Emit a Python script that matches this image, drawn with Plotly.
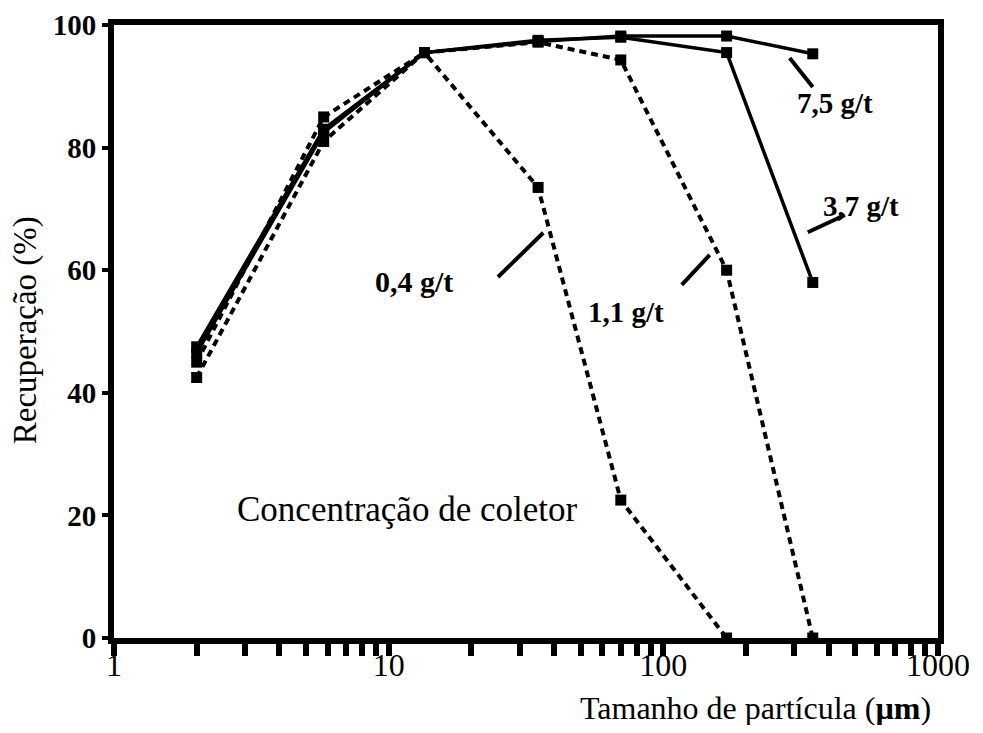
import plotly.graph_objects as go

# ---- data ----
sizes = [2, 5.8, 13.5, 35, 70, 170, 350]
rec_04 = [42.5, 81, 95.5, 73.5, 22.5, 0]
rec_11 = [45, 85, 95.5, 97.2, 94.3, 60, 0]
rec_37 = [46.5, 82.5, 95.5, 97.5, 98, 95.5, 58]
rec_75 = [47.5, 83, 95.5, 97.3, 98.2, 98.2, 95.3]

x_tickvals = [1, 2, 3, 4, 5, 6, 7, 8, 9, 10, 20, 30, 40, 50, 60, 70, 80, 90,
              100, 200, 300, 400, 500, 600, 700, 800, 900, 1000]
x_ticktext = ["1"] + [""] * 8 + ["10"] + [""] * 8 + ["100"] + [""] * 8 + ["1000"]
y_tickvals = [0, 20, 40, 60, 80, 100]

series = [
    ("0,4 g/t", sizes[:6], rec_04, "7px,5px", 4),
    ("1,1 g/t", sizes, rec_11, "7px,5px", 4),
    ("3,7 g/t", sizes, rec_37, "solid", 3.5),
    ("7,5 g/t", sizes, rec_75, "solid", 3.5),
]

FONT = "Liberation Serif"
fig = go.Figure()
for name, xs, ys, dash, w in series:
    fig.add_trace(go.Scatter(
        x=xs, y=ys, name=name, mode="lines+markers",
        line=dict(color="black", width=w, dash=dash),
        marker=dict(symbol="square", size=11, color="black"),
        cliponaxis=False, showlegend=False))

# page body has an 8px margin, so the figure is 16px smaller and shifted
fig.update_layout(
    width=967, height=717,
    margin=dict(l=106, r=37, t=17, b=87),
    paper_bgcolor="white", plot_bgcolor="white",
    font=dict(family=FONT, color="black"),
)
fig.update_xaxes(
    type="log", range=[0, 3],
    tickvals=x_tickvals, ticktext=x_ticktext,
    ticks="outside", ticklen=12, tickwidth=6, tickcolor="black",
    tickfont=dict(family=FONT, size=32, color="black"),
    ticklabelstandoff=-18,
    showline=True, linewidth=6, linecolor="black", mirror=True,
    showgrid=False, zeroline=False, automargin=False,
)
fig.update_yaxes(
    range=[0, 100], tickvals=y_tickvals,
    ticks="outside", ticklen=6, tickwidth=4, tickcolor="black",
    tickfont=dict(family=FONT, size=29, color="black", weight="bold"),
    showline=True, linewidth=6, linecolor="black", mirror=True,
    showgrid=False, zeroline=False, automargin=False,
)

def ann(text, x, y, size, bold=False, angle=0):
    fig.add_annotation(text=text, x=x, y=y, xref="paper", yref="paper",
                       xanchor="center", yanchor="middle",
                       showarrow=False, textangle=angle,
                       font=dict(family=FONT, size=size, color="black",
                                 weight="bold" if bold else "normal"))

ann("7,5 g/t", 0.875, 0.873, 29, True)
ann("3,7 g/t", 0.907, 0.705, 29, True)
ann("0,4 g/t", 0.364, 0.581, 30, True)
ann("1,1 g/t", 0.621, 0.532, 29, True)
ann("Concentração de coletor", 0.356, 0.209, 35)
ann("Tamanho de partícula (<b>µm</b>)", 0.778, -0.114, 32)
ann("Recuperação (%)", -0.108, 0.502, 33, angle=-90)

leaders = [
    (0.820, 0.946, 0.848, 0.899),
    (0.842, 0.662, 0.887, 0.690),
    (0.466, 0.589, 0.521, 0.661),
    (0.689, 0.576, 0.723, 0.625),
]
for x0, y0, x1, y1 in leaders:
    fig.add_shape(type="line", xref="paper", yref="paper",
                  x0=x0, y0=y0, x1=x1, y1=y1,
                  line=dict(color="black", width=4))

fig.write_html("out.html")
